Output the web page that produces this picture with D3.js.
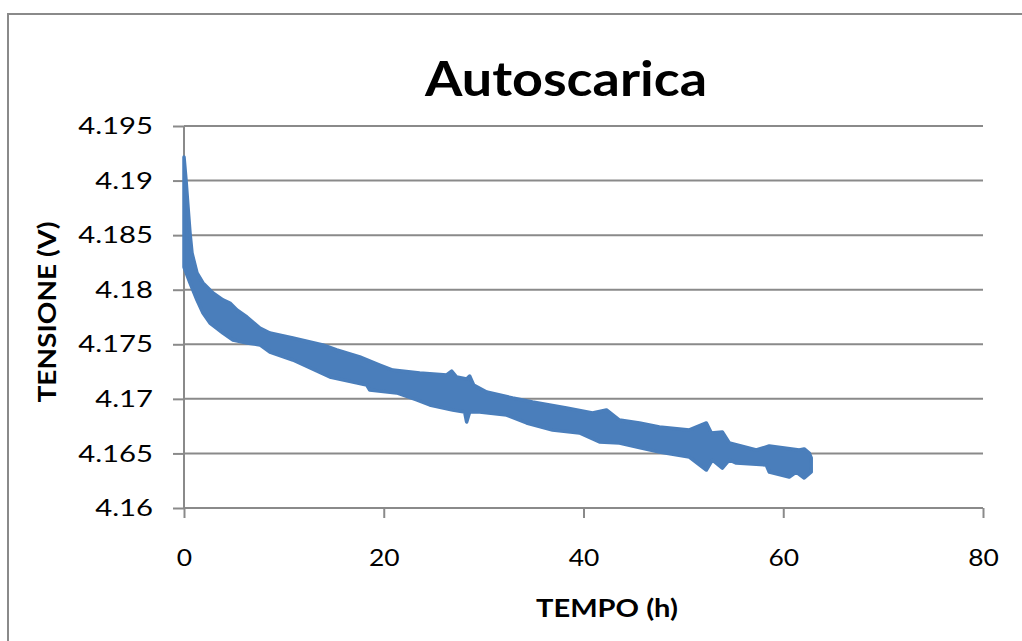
<!DOCTYPE html>
<html>
<head>
<meta charset="utf-8">
<script src="https://cdn.jsdelivr.net/npm/d3@7"></script>
<style>
	body { margin: 0; background: #fff; }
	svg { display: block; }
	text { font-family: Lato, "Open Sans", sans-serif; fill: #000; }
</style>
</head>
<body>
<svg id="chart"></svg>
<script>
// data: outer edges of the noisy band, [hours, volts]
var upperEdge = [
	[0.0, 4.19216], [0.2, 4.19005], [0.4, 4.18758], [0.6, 4.18520], [0.8, 4.18336],
	[1.3, 4.18153], [1.9, 4.18062], [2.9, 4.17970], [3.9, 4.17906], [4.6, 4.17878],
	[5.3, 4.17814], [6.3, 4.17750], [7.6, 4.17649], [8.6, 4.17603], [10.9, 4.17558],
	[13.9, 4.17494], [15.3, 4.17448], [17.6, 4.17384], [19.6, 4.17310], [20.9, 4.17264],
	[23.6, 4.17237], [26.3, 4.17219], [26.8, 4.17255], [27.3, 4.17200], [28.3, 4.17182],
	[28.6, 4.17209], [29.0, 4.17127], [30.3, 4.17063], [32.9, 4.17008], [34.9, 4.16971],
	[38.3, 4.16916], [40.9, 4.16870], [42.3, 4.16898], [43.6, 4.16806], [45.6, 4.16779],
	[47.6, 4.16742], [50.6, 4.16715], [52.3, 4.16779], [52.8, 4.16687], [53.9, 4.16696],
	[54.6, 4.16596], [57.3, 4.16531], [58.6, 4.16568], [61.6, 4.16531], [62.1, 4.16541],
	[62.6, 4.16504], [62.8, 4.16458]
]
var lowerEdge = [
	[0.0, 4.18208], [0.6, 4.18062], [1.3, 4.17906], [1.9, 4.17787], [2.6, 4.17695],
	[3.9, 4.17603], [4.9, 4.17539], [6.3, 4.17512], [7.6, 4.17494], [8.6, 4.17429],
	[10.9, 4.17356], [14.6, 4.17200], [18.3, 4.17127], [18.6, 4.17081], [21.3, 4.17054],
	[23.3, 4.16990], [24.6, 4.16944], [26.9, 4.16898], [28.1, 4.16880], [28.3, 4.16788],
	[28.6, 4.16880], [29.6, 4.16880], [32.3, 4.16852], [34.3, 4.16779], [36.9, 4.16715],
	[39.6, 4.16687], [41.6, 4.16605], [43.6, 4.16596], [45.8, 4.16550], [47.6, 4.16513],
	[50.6, 4.16467], [52.3, 4.16348], [52.9, 4.16440], [53.9, 4.16366], [54.6, 4.16440],
	[55.3, 4.16412], [58.3, 4.16394], [58.6, 4.16330], [60.6, 4.16284], [61.3, 4.16330],
	[62.1, 4.16275], [62.8, 4.16330]
]
var xTicks = [0, 20, 40, 60, 80]
var yTicks = [4.16, 4.165, 4.17, 4.175, 4.18, 4.185, 4.19, 4.195]

var width = 1022
var height = 641
var gray = "#8a8a8a"
var blue = "#4a7ebb"

var svg = d3.select("#chart")
	.attr("width", width)
	.attr("height", height)

// chart frame (runs off the right and bottom of the picture)
svg.append("rect")
	.attr("x", 8)
	.attr("y", 14)
	.attr("width", 1040)
	.attr("height", 660)
	.attr("fill", "#fff")
	.attr("stroke", gray)
	.attr("stroke-width", 2)

var x = d3.scaleLinear().domain([0, 80]).range([184, 983])
var y = d3.scaleLinear().domain([4.16, 4.195]).range([508, 126])

// horizontal gridlines
svg.append("g")
	.selectAll("line")
	.data(yTicks.slice(1))
	.enter()
	.append("line")
	.attr("x1", x(0))
	.attr("x2", x(80))
	.attr("y1", function(d) { return y(d) })
	.attr("y2", function(d) { return y(d) })
	.attr("stroke", gray)
	.attr("stroke-width", 2)

var yAxis = svg.append("g")
	.attr("transform", "translate(" + x(0) + ",0)")
	.call(d3.axisLeft(y).tickValues(yTicks).tickSize(11).tickPadding(20)
		.tickFormat(function(d) { return String(+d.toFixed(3)) }))
var xAxis = svg.append("g")
	.attr("transform", "translate(0," + y(4.16) + ")")
	.call(d3.axisBottom(x).tickValues(xTicks).tickSize(10).tickPadding(48)
		.tickFormat(d3.format("d")))

;[yAxis, xAxis].forEach(function(g) {
	g.select(".domain").attr("stroke", gray).attr("stroke-width", 2)
	g.selectAll(".tick line").attr("stroke", gray).attr("stroke-width", 2)
	g.selectAll(".tick text")
		.attr("font-size", 24)
		.attr("font-family", "Lato, sans-serif")
		.attr("fill", "#000")
})
yAxis.select(".domain").attr("d", "M0," + y(4.195) + "V" + y(4.16))
xAxis.select(".domain").attr("d", "M" + x(0) + ",0H" + x(80))
xAxis.selectAll(".tick text").attr("dy", "0")

// the reference digits are wider than Lato's, stretch them a little
yAxis.selectAll(".tick text").each(function() {
	var w = this.getComputedTextLength()
	d3.select(this).attr("textLength", w * 1.22).attr("lengthAdjust", "spacingAndGlyphs")
})
xAxis.selectAll(".tick text").each(function() {
	var w = this.getComputedTextLength()
	d3.select(this).attr("textLength", w * 1.1).attr("lengthAdjust", "spacingAndGlyphs")
})

// the noisy measurement band
var band = upperEdge.concat(lowerEdge.slice().reverse())
var line = d3.line()
	.x(function(d) { return x(d[0]) })
	.y(function(d) { return y(d[1]) })
svg.append("path")
	.attr("d", line(band) + "Z")
	.attr("fill", blue)
	.attr("stroke", blue)
	.attr("stroke-width", 3.5)
	.attr("stroke-linejoin", "round")

// titles
svg.append("text")
	.attr("x", 566)
	.attr("y", 96)
	.attr("text-anchor", "middle")
	.attr("font-size", 47)
	.attr("font-weight", "bold")
	.attr("textLength", 282)
	.attr("lengthAdjust", "spacingAndGlyphs")
	.text("Autoscarica")

svg.append("text")
	.attr("transform", "translate(56,312) rotate(-90)")
	.attr("text-anchor", "middle")
	.attr("font-size", 25)
	.attr("font-weight", "bold")
	.attr("textLength", 181)
	.attr("lengthAdjust", "spacingAndGlyphs")
	.text("TENSIONE (V)")

svg.append("text")
	.attr("x", 607)
	.attr("y", 617)
	.attr("text-anchor", "middle")
	.attr("font-size", 25)
	.attr("font-weight", "bold")
	.attr("textLength", 142)
	.attr("lengthAdjust", "spacingAndGlyphs")
	.text("TEMPO (h)")
</script>
</body>
</html>
